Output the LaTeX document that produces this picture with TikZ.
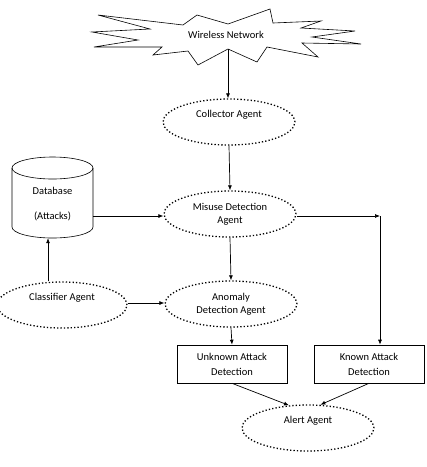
\documentclass[tikz,border=0pt]{standalone}
\usepackage{fontspec}
\setmainfont{Carlito}
\usetikzlibrary{shapes.geometric,arrows.meta}

\begin{document}
\begin{tikzpicture}[x=1pt, y=-1pt,
      agent/.style={ellipse, draw, line width=1.3pt, dash pattern=on 1.3pt off 2.1pt,
        minimum width=132pt, minimum height=46pt, align=center, font=\fontsize{10.5}{13}\selectfont, inner sep=0pt},
      box/.style={rectangle, draw, line width=0.6pt, minimum width=110pt, minimum height=38pt,
        align=center, font=\fontsize{10.5}{15}\selectfont},
      arr/.style={-{Latex[length=5pt,width=4pt]}, line width=0.7pt}
    ]
    \useasboundingbox (0,0) rectangle (427,467);

    % Wireless network
    \draw[line width=0.6pt] (98,15) -- (183,25) -- (197,15) -- (228,24) -- (270,9) -- (273,23)
      -- (321,21) -- (301,28) -- (355,31) -- (312,37) -- (361,44) -- (302,43) -- (318,57)
      -- (267,47) -- (257,62) -- (228,49) -- (198,65) -- (188,51) -- (153,55) -- (162,47)
      -- (94,47) -- (138,40) -- (92,32) -- (150,29) -- cycle;
    \node[font=\fontsize{10.5}{13}\selectfont] (net) at (226,35) {Wireless Network};
    \coordinate (netbot) at (228,49);

    % Agents
    \node[agent] (collector) at (229,122) {Collector Agent\\[4pt]};
    \node[agent] (misuse) at (230,214) {Misuse Detection\\Agent};
    \node[agent] (anomaly) at (231,304) {Anomaly\\Detection Agent};
    \node[agent, minimum width=130pt] (classifier) at (62,305) {Classifier Agent\\[4pt]};
    \node[agent] (alert) at (308,428) {Alert Agent\\[4pt]};

    % Database
    \node[minimum width=81pt, minimum height=81pt, inner sep=0pt] (db) at (52.5,197.5) {};
    \draw[line width=0.6pt] (52.5,168) ellipse [x radius=40.5, y radius=11];
    \draw[line width=0.6pt] (12,168) -- (12,227) arc [start angle=180, end angle=0, x radius=40.5, y radius=11] -- (93,168);
    \node[align=center, font=\fontsize{10.5}{13}\selectfont] (dbtext) at (52.5,204.5) {Database\\[12pt](Attacks)};

    % Detection boxes
    \node[box] (unknown) at (232,364) {Unknown Attack\\Detection};
    \node[box] (known) at (369,364) {Known Attack\\Detection};
    \coordinate (split) at (380,216);

    % Connectors
    \draw[arr] (netbot) -- (collector.north -| netbot);
    \draw[arr] (collector.south) -- (misuse.north);
    \draw[arr] (db.east |- 0,216) -- (misuse.west |- 0,216);
    \draw[arr] (misuse.east |- 0,216) -- (split);
    \draw[arr] (split) -- (split |- known.north);
    \draw[arr] (misuse.south) -- (anomaly.north);
    \draw[arr] (classifier.north -| 48,0) -- (db.south -| 48,0);
    \draw[arr] (classifier.east |- 0,303) -- (anomaly.west |- 0,303);
    \draw[arr] (anomaly.south) -- (unknown.north);
    \draw[arr] (unknown.south) -- (alert.130);
    \draw[arr] (known.south) -- (alert.62);
  \end{tikzpicture}
\end{document}
